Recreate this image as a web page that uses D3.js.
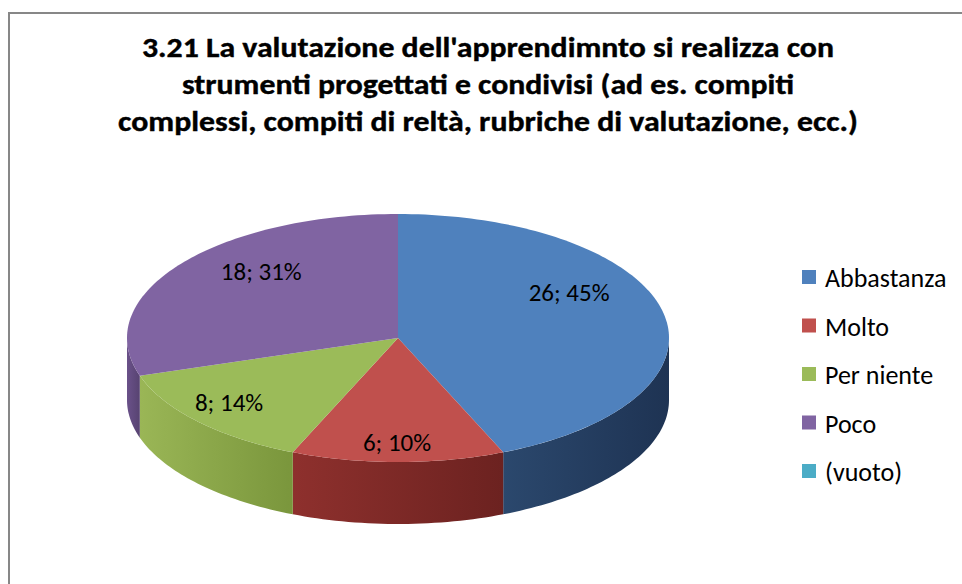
<!DOCTYPE html>
<html>
<head>
<script src="https://d3js.org/d3.v7.min.js"></script>
<style>
  body { margin: 0; background: #fff; font-family: Carlito, Lato, 'Open Sans', sans-serif; }
</style>
</head>
<body>
<div id="container"></div>
<script>
// data
const categories = ['Abbastanza', 'Molto', 'Per niente', 'Poco', '(vuoto)'];
const counts = [26, 6, 8, 18, 0];
const colors = ['#4f81bd', '#c0504d', '#9bbb59', '#8064a2', '#4bacc6'];
const titleLines = [
  "3.21 La valutazione dell'apprendimnto si realizza con",
  "strumenti progettati e condivisi (ad es. compiti",
  "complessi, compiti di reltà, rubriche di valutazione, ecc.)"
];

const width = 962, height = 584;
const sideShades = [
  ['#2b486d', '#1e3353'],
  ['#8e302d', '#6c2220'],
  ['#9ab656', '#7a963c'],
  ['#6a5189', '#574371'],
  ['#3a8da3', '#2c6e80']
];
const labelNudge = [[-17, -34], [-1, 17], [-24, 8], [30, -25], [0, 0]];

const svg = d3.select('#container').append('svg')
  .attr('width', width)
  .attr('height', height);

// chart border (runs off the right and bottom)
svg.append('rect')
  .attr('x', 9).attr('y', 13)
  .attr('width', 1000).attr('height', 700)
  .attr('fill', 'none')
  .attr('stroke', '#878787')
  .attr('stroke-width', 2);

// title
const titleWidths = [692, 612, 740];
svg.append('g').selectAll('text')
  .data(titleLines)
  .join('text')
  .attr('x', 488)
  .attr('y', (d, i) => 57 + i * 37)
  .attr('text-anchor', 'middle')
  .attr('font-size', 28)
  .attr('font-weight', 'bold')
  .attr('stroke', '#000')
  .attr('stroke-width', 0.4)
  .attr('textLength', (d, i) => titleWidths[i])
  .attr('lengthAdjust', 'spacingAndGlyphs')
  .text(d => d);

// 3d pie: ellipse with a little perspective stretch toward the front
const cx = 398, cy = 338, rx = 271, ry = 124, depth = 62, persp = 1.25;
const total = d3.sum(counts);
const pie = d3.pie().sort(null).value(d => d.value);
const slices = pie(categories.map((c, i) => ({ name: c, value: counts[i], i })));

function unit(a) {
  const sx = persp * Math.sin(a), cy_ = Math.cos(a);
  const n = Math.hypot(sx, cy_);
  return [sx / n, cy_ / n];
}
const px = a => cx + rx * unit(a)[0];
const py = a => cy - ry * unit(a)[1];

function arcPoints(a0, a1, dy) {
  const n = Math.max(2, Math.ceil((a1 - a0) / 0.02));
  return d3.range(n + 1).map(k => {
    const a = a0 + (a1 - a0) * k / n;
    return [px(a), py(a) + dy];
  });
}

const defs = svg.append('defs');
slices.forEach((s, i) => {
  const g = defs.append('linearGradient')
    .attr('id', 'side' + i)
    .attr('x1', 0).attr('x2', 1).attr('y1', 0).attr('y2', 0);
  g.append('stop').attr('offset', '0%').attr('stop-color', sideShades[i][0]);
  g.append('stop').attr('offset', '100%').attr('stop-color', sideShades[i][1]);
});

const line = d3.line();

// outer walls (only the front half shows)
const sides = slices.filter(s => s.endAngle > s.startAngle)
  .map(s => {
    const a0 = Math.max(s.startAngle, Math.PI / 2);
    const a1 = Math.min(s.endAngle, Math.PI * 1.5);
    return { s, a0, a1 };
  })
  .filter(d => d.a1 > d.a0);

svg.append('g').selectAll('path')
  .data(sides)
  .join('path')
  .attr('d', d => {
    const top = arcPoints(d.a0, d.a1, 0);
    const bottom = arcPoints(d.a0, d.a1, depth).reverse();
    return line(top.concat(bottom)) + 'Z';
  })
  .attr('fill', d => `url(#side${d.s.data.i})`);

// top faces
svg.append('g').selectAll('path')
  .data(slices.filter(s => s.endAngle > s.startAngle))
  .join('path')
  .attr('d', s => line([[cx, cy]].concat(arcPoints(s.startAngle, s.endAngle, 0))) + 'Z')
  .attr('fill', s => colors[s.data.i]);

// data labels
svg.append('g').selectAll('text')
  .data(slices.filter(s => s.value > 0))
  .join('text')
  .attr('x', s => {
    const m = (s.startAngle + s.endAngle) / 2;
    return cx + rx * 0.7 * unit(m)[0] + labelNudge[s.data.i][0];
  })
  .attr('y', s => {
    const m = (s.startAngle + s.endAngle) / 2;
    return cy - ry * 0.7 * unit(m)[1] + labelNudge[s.data.i][1];
  })
  .attr('dy', '0.35em')
  .attr('text-anchor', 'middle')
  .attr('font-size', 25)
  .attr('fill', '#000')
  .text(s => `${s.value}; ${Math.round(s.value / total * 100)}%`);

// legend
const legend = svg.append('g').selectAll('g')
  .data(categories)
  .join('g')
  .attr('transform', (d, i) => `translate(802,${287 + i * 48.5})`);

legend.append('rect')
  .attr('x', 0).attr('y', -17)
  .attr('width', 14).attr('height', 14)
  .attr('fill', (d, i) => colors[i]);

legend.append('text')
  .attr('x', 23)
  .attr('font-size', 26)
  .attr('fill', '#000')
  .text(d => d);
</script>
</body>
</html>
